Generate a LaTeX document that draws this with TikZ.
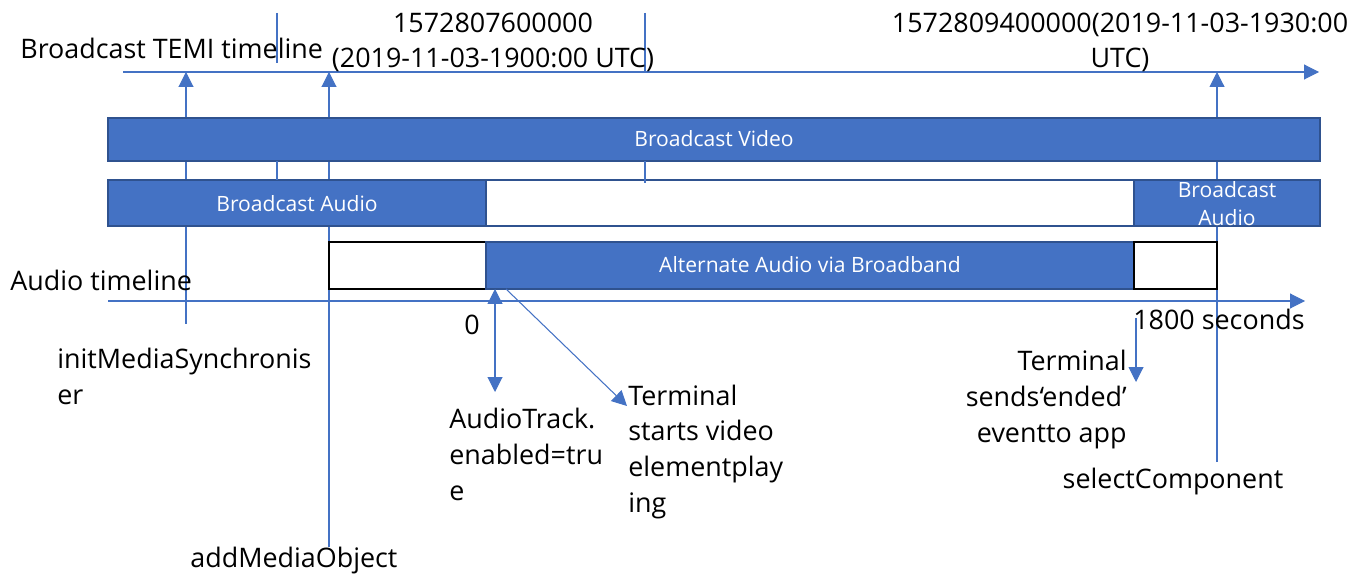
\documentclass[tikz,border=0pt]{standalone}
\usepackage{fontspec}
\setmainfont{Open Sans}
\usetikzlibrary{arrows.meta}
\definecolor{barblue}{HTML}{4472C4}
\definecolor{barline}{HTML}{2F528F}

\begin{document}
\begin{tikzpicture}[x=0.02cm, y=-0.02cm,
  tick/.style={draw=barblue, line width=0.6pt},
  tipline/.style={tick, -{Triangle[length=0.3cm, width=0.3cm]}},
  bluebar/.style={fill=barblue, draw=barline, line width=1pt},
  emptybar/.style={fill=white, draw=barline, line width=1pt},
  gapbox/.style={fill=white, draw=black, line width=1.3pt},
  bartext/.style={text=white, font=\fontsize{12pt}{16.5pt}\selectfont, inner sep=0pt, align=center},
  lbl/.style={font=\fontsize{15.3pt}{20.3pt}\selectfont, inner sep=0pt}]
\useasboundingbox (0,0) rectangle (1362,577);
% timelines
\coordinate (temiL) at (123,72);
\coordinate (temiR) at (1319,72);
\coordinate (audL) at (108,301);
\coordinate (audR) at (1305,301);
\draw[tipline] (temiL) -- (temiR);
\draw[tipline] (audL) -- (audR);
% calls into the TEMI timeline
\coordinate (initbot) at (186,324);
\coordinate (inittop) at (186,72);
\coordinate (addbot) at (329,547);
\coordinate (addtop) at (329,72);
\coordinate (selbot) at (1217,462);
\coordinate (seltop) at (1217,72);
\draw[tipline] (initbot) -- (inittop);
\draw[tipline] (addbot) -- (addtop);
\draw[tipline] (selbot) -- (seltop);
% bars
\draw[bluebar] (108,118) rectangle (1320,161);
\draw[bluebar] (108,180) rectangle (486,226);
\draw[emptybar] (486,180) rectangle (1134,226);
\draw[bluebar] (1134,180) rectangle (1320,226);
\draw[gapbox] (329,242) rectangle (486,289);
\draw[bluebar] (486,242) rectangle (1134,289);
\draw[gapbox] (1134,242) rectangle (1217,289);
\node[bartext, anchor=base] (video) at (714,147) {Broadcast Video};
\node[bartext, anchor=base] (baudio) at (297,212) {Broadcast Audio};
\node[bartext, anchor=base] (baudiob) at (1227,226) {Broadcast\\Audio};
\node[bartext, anchor=base] (altaudio) at (810,273) {Alternate Audio via Broadband};
\draw[tick] (277,13) -- (277,63);
\draw[tick] (277,161) -- (277,180);
\draw[tick] (645,13) -- (645,72);
\draw[tick] (645,161) -- (645,183);
% labels
\node[lbl, anchor=base west] (temilbl) at (20,59) {Broadcast TEMI timeline};
\node[lbl, anchor=base, align=center] (startlbl) at (493,68) {1572807600000\\(2019-11-03-1900:00 UTC)};
\node[lbl, anchor=base, align=center] (stoplbl) at (1120,68) {1572809400000(2019-11-03-1930:00\\UTC)};
\node[lbl, anchor=base west] (audlbl) at (10,291) {Audio timeline};
\node[lbl, anchor=base west, align=left] (initlbl) at (57,404) {initMediaSynchronis\\er};
\node[lbl, anchor=base west] (addlbl) at (190,567) {addMediaObject};
\node[lbl, anchor=base] (zerolbl) at (472,335) {0};
\node[lbl, anchor=base west] (endlbl) at (1133,330) {1800 seconds};
\node[lbl, anchor=base west, align=left] (enablbl) at (449,500) {AudioTrack.\\enabled=tru\\e};
\node[lbl, anchor=base west, align=left] (playlbl) at (628,512) {Terminal\\starts video\\elementplay\\ing};
\node[lbl, anchor=base east, align=right] (endedlbl) at (1127,442) {Terminal\\sends‘ended’\\eventto app};
\node[lbl, anchor=base] (sellbl) at (1173,488) {selectComponent};
% events on the audio timeline
\coordinate (altstart) at (495,289);
\coordinate (enabtip) at (495,392);
\coordinate (diagstart) at (506,289);
\coordinate (playtip) at (627,406);
\coordinate (endedtop) at (1136,318);
\coordinate (endedtip) at (1136,382);
\draw[tick, {Triangle[length=0.3cm, width=0.3cm]}-{Triangle[length=0.3cm, width=0.3cm]}] (altstart) -- (enabtip);
\draw[tipline] (diagstart) -- (playtip);
\draw[tipline] (endedtop) -- (endedtip);
\end{tikzpicture}
\end{document}
